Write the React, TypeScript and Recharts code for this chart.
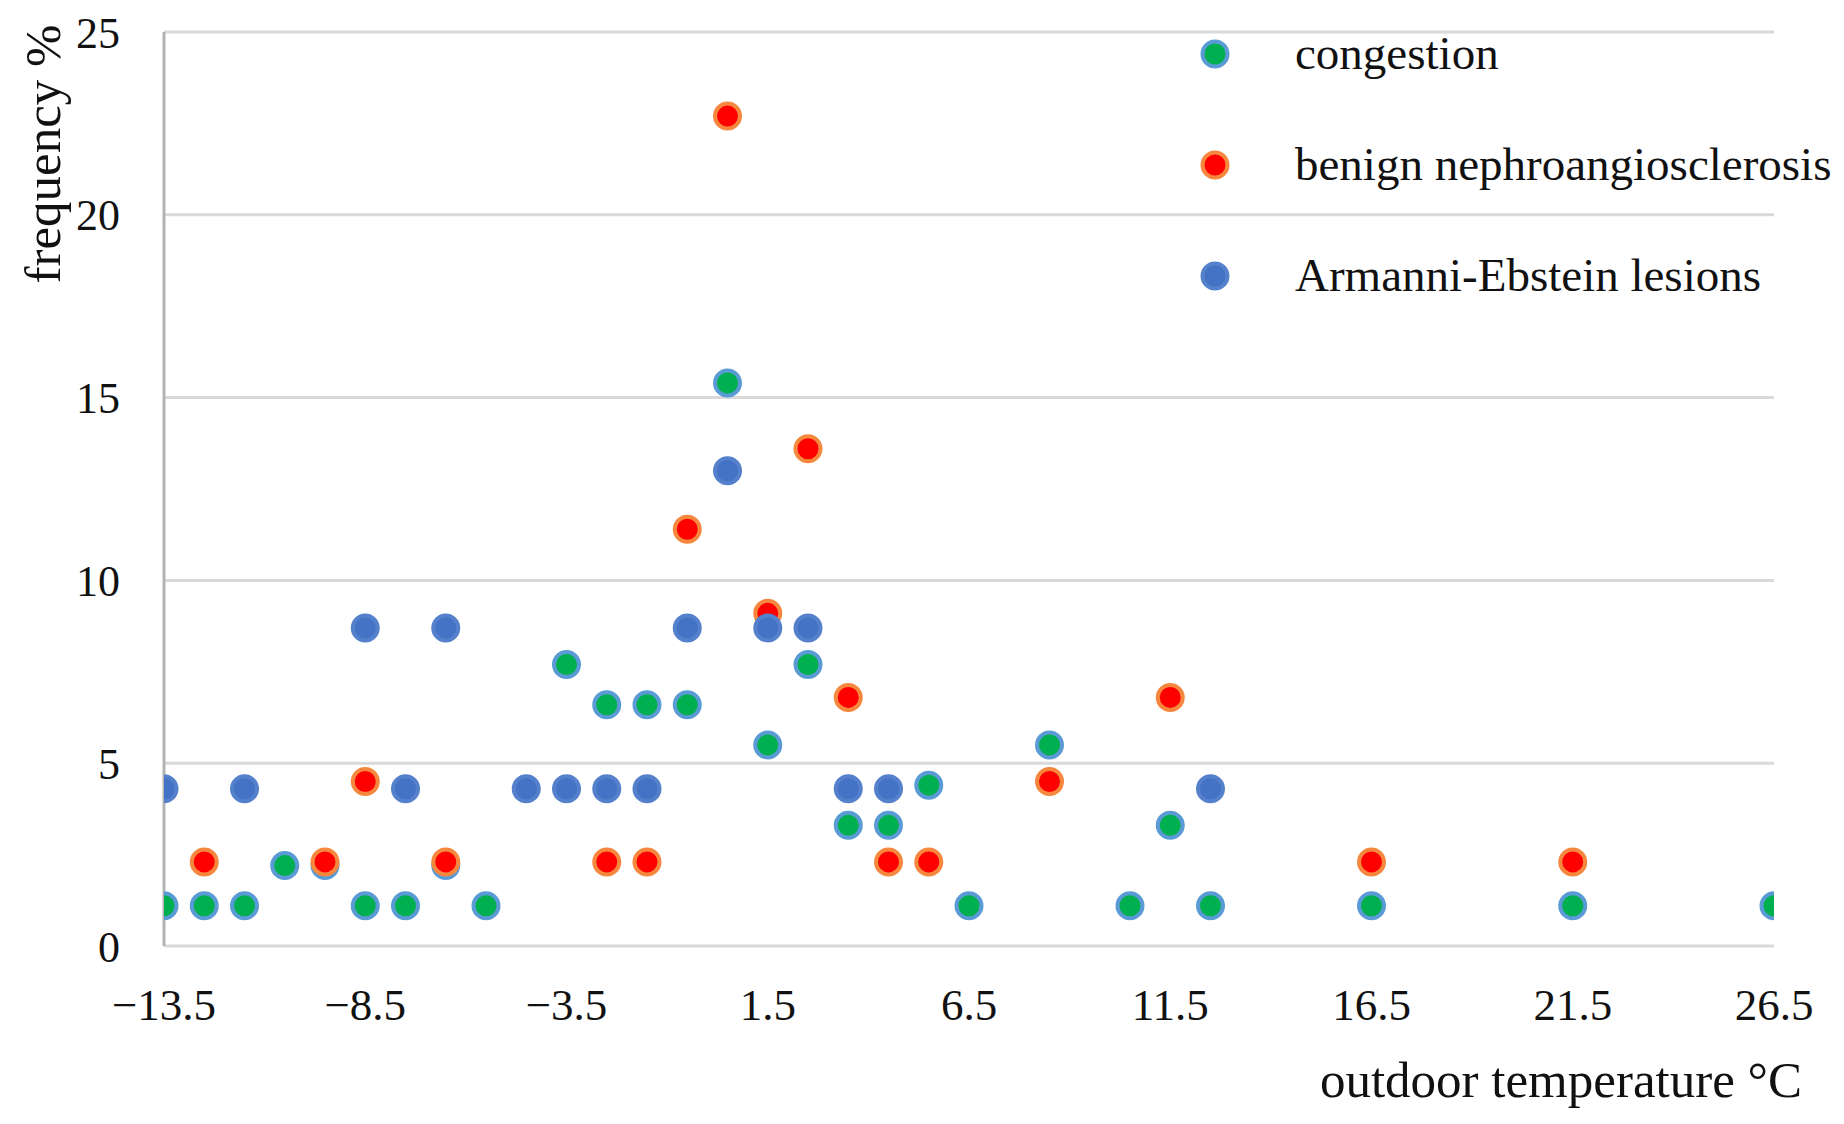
import React from "react";
import { ScatterChart, Scatter, XAxis, YAxis, CartesianGrid, Legend, Label } from "recharts";

const congestionTemp = [-13.5, -12.5, -11.5, -10.5, -9.5, -8.5, -7.5, -6.5, -5.5, -3.5, -2.5, -1.5, -0.5, 0.5, 1.5, 2.5, 3.5, 4.5, 5.5, 6.5, 8.5, 10.5, 11.5, 12.5, 16.5, 21.5, 26.5];
const congestionFreq = [1.1, 1.1, 1.1, 2.2, 2.2, 1.1, 1.1, 2.2, 1.1, 7.7, 6.6, 6.6, 6.6, 15.4, 5.5, 7.7, 3.3, 3.3, 4.4, 1.1, 5.5, 1.1, 3.3, 1.1, 1.1, 1.1, 1.1];

const benignTemp = [-12.5, -9.5, -8.5, -6.5, -2.5, -1.5, -0.5, 0.5, 1.5, 2.5, 3.5, 4.5, 5.5, 8.5, 11.5, 16.5, 21.5];
const benignFreq = [2.3, 2.3, 4.5, 2.3, 2.3, 2.3, 11.4, 22.7, 9.1, 13.6, 6.8, 2.3, 2.3, 4.5, 6.8, 2.3, 2.3];

const armanniTemp = [-13.5, -11.5, -8.5, -7.5, -6.5, -4.5, -3.5, -2.5, -1.5, -0.5, 0.5, 1.5, 2.5, 3.5, 4.5, 12.5];
const armanniFreq = [4.3, 4.3, 8.7, 4.3, 8.7, 4.3, 4.3, 4.3, 4.3, 8.7, 13.0, 8.7, 8.7, 4.3, 4.3, 4.3];

const xTicks = [-13.5, -8.5, -3.5, 1.5, 6.5, 11.5, 16.5, 21.5, 26.5];
const yTicks = [0, 5, 10, 15, 20, 25];

const seriesNames = ["congestion", "benign nephroangiosclerosis", "Armanni-Ebstein lesions"];
const xTitle = "outdoor temperature \u00B0C";
const yTitle = "frequency %";

const toPoints = (xs: number[], ys: number[]) => xs.map((x, i) => ({ x, y: ys[i] }));

const congestionData = toPoints(congestionTemp, congestionFreq);
const benignData = toPoints(benignTemp, benignFreq);
const armanniData = toPoints(armanniTemp, armanniFreq);

const STYLE: Record<string, { fill: string; stroke: string }> = {
  congestion: { fill: "#00b050", stroke: "#5b9bd5" },
  "benign nephroangiosclerosis": { fill: "#ff0000", stroke: "#f5883e" },
  "Armanni-Ebstein lesions": { fill: "#4472c4", stroke: "#5580cc" },
};

const FONT = '"Liberation Serif", "Times New Roman", serif';
const TEXT = "#111111";

const makeShape = (name: string) => (props: any) => {
  const s = STYLE[name];
  if (props.cx == null || props.cy == null) return <g />;
  return <circle cx={props.cx} cy={props.cy} r={12.5} fill={s.fill} stroke={s.stroke} strokeWidth={4} />;
};

const fmtX = (v: number) => (v < 0 ? "\u2212" + String(Math.abs(v)) : String(v));

const XTick = (props: any) => {
  const { x, y, payload } = props;
  return (
    <text x={x} y={y + 59} textAnchor="middle" dominantBaseline="central" fontFamily={FONT} fontSize={45} fill={TEXT}>
      {fmtX(payload.value)}
    </text>
  );
};

const YTick = (props: any) => {
  const { x, y, payload } = props;
  return (
    <text x={x - 44} y={y + 1} textAnchor="end" dominantBaseline="central" fontFamily={FONT} fontSize={44} fill={TEXT}>
      {payload.value}
    </text>
  );
};

const XTitle = (props: any) => {
  const vb = props.viewBox;
  return (
    <text x={vb.x + vb.width + 28} y={vb.y + 134} textAnchor="end" dominantBaseline="central" fontFamily={FONT} fontSize={51} fill={TEXT}>
      {xTitle}
    </text>
  );
};

const YTitle = (props: any) => {
  const vb = props.viewBox;
  const cx = vb.x + 35;
  const cy = vb.y + 122;
  return (
    <text x={cx} y={cy} transform={`rotate(-90 ${cx} ${cy})`} textAnchor="middle" dominantBaseline="central" fontFamily={FONT} fontSize={51} fill={TEXT}>
      {yTitle}
    </text>
  );
};

const LegendContent = () => (
  <div style={{ fontFamily: FONT, fontSize: 47, color: TEXT, whiteSpace: "nowrap" }}>
    {seriesNames.map((n) => (
      <div key={n} style={{ height: 111, display: "flex", alignItems: "center" }}>
        <svg width={30} height={30} style={{ flex: "none" }}>
          <circle cx={15} cy={15} r={12.5} fill={STYLE[n].fill} stroke={STYLE[n].stroke} strokeWidth={4} />
        </svg>
        <span style={{ marginLeft: 65, lineHeight: 1 }}>{n}</span>
      </div>
    ))}
  </div>
);

export default function App() {
  return (
    <ScatterChart width={1836} height={1116} margin={{ top: 24, right: 70, left: 0, bottom: 0 }}>
      <CartesianGrid horizontal vertical={false} stroke="#d9d9d9" strokeWidth={3} />
      <XAxis
        type="number"
        dataKey="x"
        domain={[-13.5, 26.5]}
        ticks={xTicks}
        interval={0}
        allowDataOverflow
        height={178}
        axisLine={false}
        tickLine={false}
        tickSize={0}
        tickMargin={0}
        tick={<XTick />}
      >
        <Label content={<XTitle />} />
      </XAxis>
      <YAxis
        type="number"
        dataKey="y"
        domain={[0, 25]}
        ticks={yTicks}
        interval={0}
        width={156}
        axisLine={{ stroke: "#b3b3b3", strokeWidth: 3 }}
        tickLine={false}
        tickSize={0}
        tickMargin={0}
        tick={<YTick />}
      >
        <Label content={<YTitle />} />
      </YAxis>
      <Legend
        layout="vertical"
        align="center"
        verticalAlign="middle"
        wrapperStyle={{ top: -10, left: 1192, width: 640 }}
        content={<LegendContent />}
      />
      <Scatter name={seriesNames[0]} data={congestionData} fill={STYLE.congestion.fill} shape={makeShape(seriesNames[0])} isAnimationActive={false} />
      <Scatter name={seriesNames[1]} data={benignData} fill={STYLE[seriesNames[1]].fill} shape={makeShape(seriesNames[1])} isAnimationActive={false} />
      <Scatter name={seriesNames[2]} data={armanniData} fill={STYLE[seriesNames[2]].fill} shape={makeShape(seriesNames[2])} isAnimationActive={false} />
    </ScatterChart>
  );
}
